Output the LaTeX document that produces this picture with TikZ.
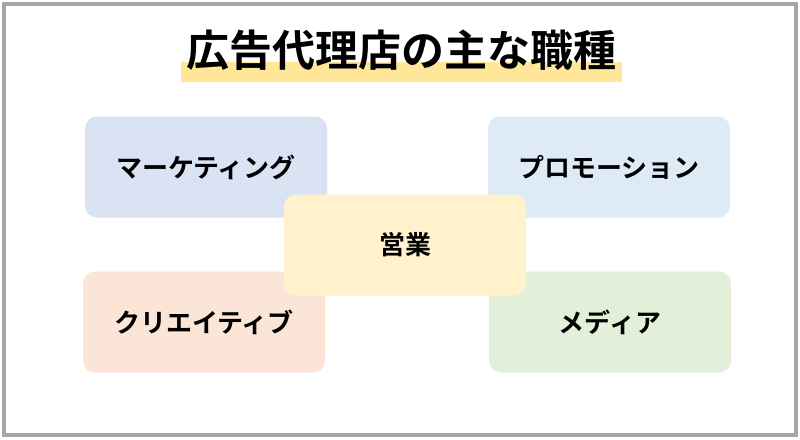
\documentclass[tikz,border=0pt]{standalone}
\usepackage{fontspec}
\newfontfamily\cjk{Noto Sans CJK JP}[BoldFont={Noto Sans CJK JP Bold}]
\definecolor{frame}{HTML}{A6A6A6}
\definecolor{hl}{HTML}{FFE699}
\definecolor{cA}{HTML}{DAE3F3}
\definecolor{cB}{HTML}{DEEBF7}
\definecolor{cC}{HTML}{FBE5D6}
\definecolor{cD}{HTML}{E2F0D9}
\definecolor{cE}{HTML}{FFF2CC}
\tikzset{rbox/.style={rounded corners=12pt,minimum width=242pt,minimum height=101pt,inner sep=0pt,font=\cjk\bfseries\fontsize{26}{30}\selectfont,text=black}}
\begin{document}
\begin{tikzpicture}[x=1pt,y=-1pt]
\useasboundingbox (0,0) rectangle (800,439);
\fill[white] (0,0) rectangle (800,439);
\draw[frame,line width=4pt] (4,4) rectangle (796,435);
\fill[hl] (181,62) rectangle (622,82);
\node[font=\cjk\bfseries\fontsize{43}{50}\selectfont] (title) at (401,50) {広告代理店の主な職種};
\node[rbox,fill=cA] (mk) at (206,167) {マーケティング};
\node[rbox,fill=cB] (pr) at (609,167) {プロモーション};
\node[rbox,fill=cC] (cr) at (204,322) {クリエイティブ};
\node[rbox,fill=cD] (md) at (610,322) {メディア};
\node[rbox,fill=cE] (sa) at (405,245) {営業};
\end{tikzpicture}
\end{document}
